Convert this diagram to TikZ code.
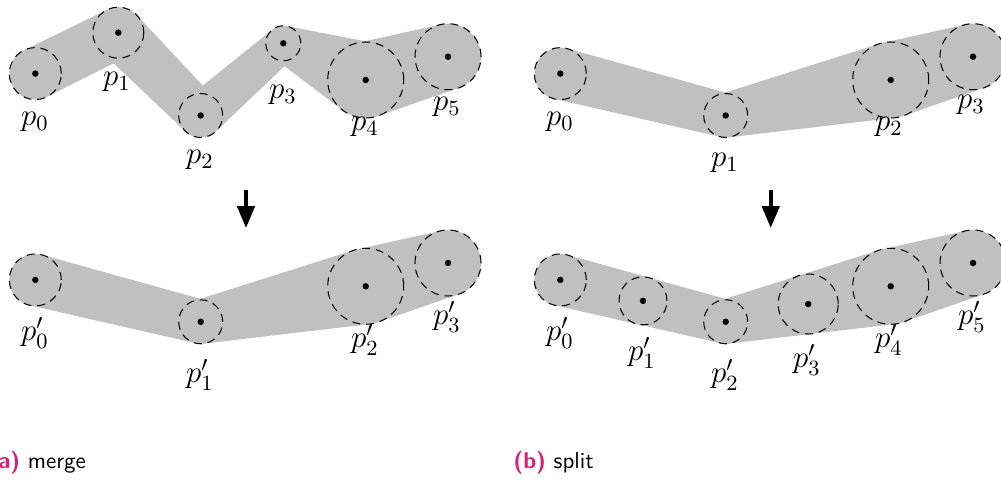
\RequirePackage{fix-cm}
\documentclass[tikz,border=0pt]{standalone}
\usetikzlibrary{calc,arrows.meta,backgrounds}
\definecolor{hullgray}{RGB}{192,192,192}
\definecolor{capmag}{RGB}{210,35,125}
\newcommand{\pxu}{0.4348}
\tikzset{
  hull/.style={fill=hullgray},
  ring/.style={circle, draw=black, line width=0.45pt, dash pattern=on 3.5pt off 2.5pt, inner sep=0pt, outer sep=0pt},
  lab/.style={inner sep=0pt, font=\fontsize{13.5}{16}\selectfont},
  captext/.style={inner sep=0pt, anchor=base west, font=\sffamily\fontsize{10}{12}\selectfont},
  bigarrow/.style={line width=1.7pt, -{Triangle[width=7.5pt,length=9.5pt]}},
}
\newcommand{\ctrlpt}[4]{%
  \node[ring, minimum size={2*#4*\pxu pt}] (#1) at (#2,#3) {};
  \fill (#1.center) circle[radius=1.4pt];
  \begin{pgfonlayer}{background}\fill[hull] (#1.center) circle[radius={#4*\pxu pt}];\end{pgfonlayer}}
\newcommand{\capsule}[4]{%
  \begin{pgfonlayer}{background}
  \fill[hull] let \p1=(#1.center), \p2=(#2.center),
    \n1={atan2(\y2-\y1,\x2-\x1)},
    \n2={veclen(\x2-\x1,\y2-\y1)},
    \n3={acos((#3-#4)*\pxu/\n2)} in
    ($(#1.center)+({\n1+\n3}:{#3*\pxu pt})$) --
    ($(#2.center)+({\n1+\n3}:{#4*\pxu pt})$) --
    ($(#2.center)+({\n1-\n3}:{#4*\pxu pt})$) --
    ($(#1.center)+({\n1-\n3}:{#3*\pxu pt})$) -- cycle;
  \end{pgfonlayer}}
\begin{document}
\begin{tikzpicture}[x={(0.4348pt,0pt)}, y={(0pt,-0.4348pt)}]
\useasboundingbox (0,0) rectangle (1001,483);
% ---- (a) merge, top
\ctrlpt{ma0}{35.3}{73.6}{26}
\ctrlpt{ma1}{118.3}{32.7}{25.5}
\ctrlpt{ma2}{200.7}{115.5}{22}
\ctrlpt{ma3}{283.3}{43.3}{17.5}
\ctrlpt{ma4}{365.7}{80}{38}
\ctrlpt{ma5}{448}{56.7}{33}
\capsule{ma0}{ma1}{26}{25.5}
\capsule{ma1}{ma2}{25.5}{22}
\capsule{ma2}{ma3}{22}{17.5}
\capsule{ma3}{ma4}{17.5}{38}
\capsule{ma4}{ma5}{38}{33}
\node[lab] (lma0) at (35,122) {$p_0$};
\node[lab] (lma1) at (117,82) {$p_1$};
\node[lab] (lma2) at (200,160) {$p_2$};
\node[lab] (lma3) at (283,95) {$p_3$};
\node[lab] (lma4) at (365,127) {$p_4$};
\node[lab] (lma5) at (447,107) {$p_5$};
% ---- (a) merge, bottom
\ctrlpt{mb0}{35.3}{279.9}{26}
\ctrlpt{mb1}{200.7}{321.8}{22}
\ctrlpt{mb2}{365.7}{286.3}{38}
\ctrlpt{mb3}{448}{263}{33}
\capsule{mb0}{mb1}{26}{22}
\capsule{mb1}{mb2}{22}{38}
\capsule{mb2}{mb3}{38}{33}
\node[lab] (lmb0) at (35,333) {$p'_0$};
\node[lab] (lmb1) at (200,375) {$p'_1$};
\node[lab] (lmb2) at (365,340) {$p'_2$};
\node[lab] (lmb3) at (447,317) {$p'_3$};
% ---- (b) split, top
\ctrlpt{sa0}{560.3}{73.6}{26}
\ctrlpt{sa1}{725.7}{115.5}{22}
\ctrlpt{sa2}{890.7}{80}{38}
\ctrlpt{sa3}{973}{56.7}{33}
\capsule{sa0}{sa1}{26}{22}
\capsule{sa1}{sa2}{22}{38}
\capsule{sa2}{sa3}{38}{33}
\node[lab] (lsa0) at (560,122) {$p_0$};
\node[lab] (lsa1) at (725,163) {$p_1$};
\node[lab] (lsa2) at (889,127) {$p_2$};
\node[lab] (lsa3) at (971,105) {$p_3$};
% ---- (b) split, bottom
\ctrlpt{sb0}{560.3}{279.9}{26}
\ctrlpt{sb1}{643}{300.85}{24}
\ctrlpt{sb2}{725.7}{321.8}{22}
\ctrlpt{sb3}{808.2}{304.05}{30}
\ctrlpt{sb4}{890.7}{286.3}{38}
\ctrlpt{sb5}{973}{263}{33}
\capsule{sb0}{sb1}{26}{24}
\capsule{sb1}{sb2}{24}{22}
\capsule{sb2}{sb3}{22}{30}
\capsule{sb3}{sb4}{30}{38}
\capsule{sb4}{sb5}{38}{33}
\node[lab] (lsb0) at (560,333) {$p'_0$};
\node[lab] (lsb1) at (642,353) {$p'_1$};
\node[lab] (lsb2) at (725,375) {$p'_2$};
\node[lab] (lsb3) at (807,360) {$p'_3$};
\node[lab] (lsb4) at (889,340) {$p'_4$};
\node[lab] (lsb5) at (972,317) {$p'_5$};
% ---- arrows
\coordinate (arA1) at (246,190);
\coordinate (arA2) at (246,228);
\coordinate (arB1) at (770.7,190);
\coordinate (arB2) at (770.7,228);
\draw[bigarrow] (arA1) -- (arA2);
\draw[bigarrow] (arB1) -- (arB2);
% ---- captions
\node[captext] (capA) at (-12,469) {\textcolor{capmag}{\bfseries(a)}\ merge};
\node[captext] (capB) at (513,469) {\textcolor{capmag}{\bfseries(b)}\ split};
\end{tikzpicture}
\end{document}
